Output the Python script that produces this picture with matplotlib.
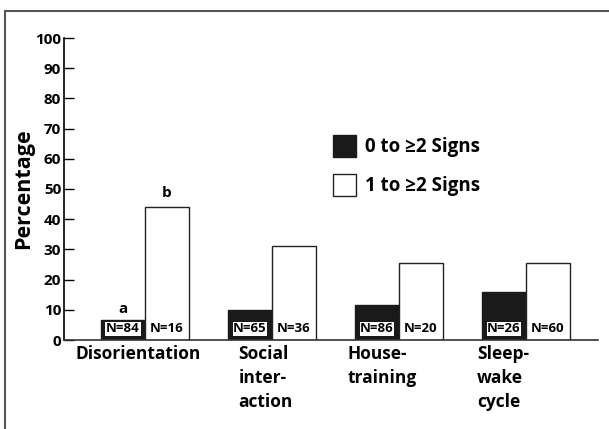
import matplotlib
matplotlib.use("Agg")
import matplotlib.pyplot as plt
from matplotlib.lines import Line2D

categories = ["Disorientation", "Social\ninter-\naction", "House-\ntraining", "Sleep-\nwake\ncycle"]
zero_signs = [6.5, 10, 11.5, 16]
one_signs = [44, 31, 25.5, 25.5]
n_zero = ["N=84", "N=65", "N=86", "N=26"]
n_one = ["N=16", "N=36", "N=20", "N=60"]
sig_zero = ["a", "", "", ""]
sig_one = ["b", "", "", ""]
series_names = ["0 to \u22652 Signs", "1 to \u22652 Signs"]
yticks = [0, 10, 20, 30, 40, 50, 60, 70, 80, 90, 100]

FONT = ["Open Sans", "DejaVu Sans"]
plt.rcParams['font.family'] = FONT

W, H = 609, 429
fig = plt.figure(figsize=(W / 100, H / 100), dpi=100)

# outer frame lines (cropped box)
fig.add_artist(Line2D([5 / W, 5 / W], [0, 1 - 11 / H], transform=fig.transFigure, color="#555555", lw=1.5))
fig.add_artist(Line2D([5 / W, 1], [1 - 11 / H, 1 - 11 / H], transform=fig.transFigure, color="#555555", lw=1.5))

ax = fig.add_axes([64 / W, (H - 340) / H, 534 / W, 302 / H])
step = 127.0
bw = 44 / step
ax.set_xlim(-81 / step, 3 + 72 / step)
ax.set_ylim(0, 100)

xs = list(range(len(categories)))
ax.bar([x - bw / 2 for x in xs], zero_signs, width=bw, color="#1a1a1a", edgecolor="#1a1a1a", lw=1.0, label=series_names[0])
ax.bar([x + bw / 2 for x in xs], one_signs, width=bw, color="white", edgecolor="#222222", lw=1.0, label=series_names[1])

for x, n0, n1, s0, s1, v0, v1 in zip(xs, n_zero, n_one, sig_zero, sig_one, zero_signs, one_signs):
    ax.text(x - bw / 2, 3.7, n0, ha="center", va="center", fontsize=9.5, fontweight="bold", color="black",
            bbox=dict(boxstyle="square,pad=0.05", fc="white", ec="none"))
    ax.text(x + bw / 2, 3.7, n1, ha="center", va="center", fontsize=9.5, fontweight="bold", color="black")
    if s0:
        ax.text(x - bw / 2, v0 + 1.5, s0, ha="center", va="bottom", fontsize=11, fontweight="bold")
    if s1:
        ax.text(x + bw / 2, v1 + 2.5, s1, ha="center", va="bottom", fontsize=11, fontweight="bold")

for sp in ["top", "right"]:
    ax.spines[sp].set_visible(False)
ax.spines["left"].set_linewidth(1.2)
ax.spines["bottom"].set_linewidth(1.2)
ax.spines["bottom"].set_color("#333333")

ax.set_yticks(yticks)
ax.set_yticklabels([str(t) for t in yticks], fontsize=11, fontweight="bold")
ax.tick_params(axis="y", direction="in", length=7, width=1.0, pad=2)
ax.set_xticks([])
ax.set_ylabel("Percentage", fontsize=15.5, fontweight="bold", labelpad=1)

label_offsets = [-0.05, -0.05, -0.13, -0.18]
for x, lab, off in zip(xs, categories, label_offsets):
    ax.text(x + off, -1.5, lab, ha="center", va="top", fontsize=12.5, fontweight="bold",
            multialignment="left", linespacing=1.45)

leg = ax.legend(loc="upper left", bbox_to_anchor=(252 / 534, (340 - 118) / 302), frameon=False,
                prop=dict(family=FONT, weight="bold", size=13.5), handlelength=1.25, handleheight=1.45,
                handletextpad=0.45, labelspacing=0.9)

fig.savefig("out.png", dpi=100)
